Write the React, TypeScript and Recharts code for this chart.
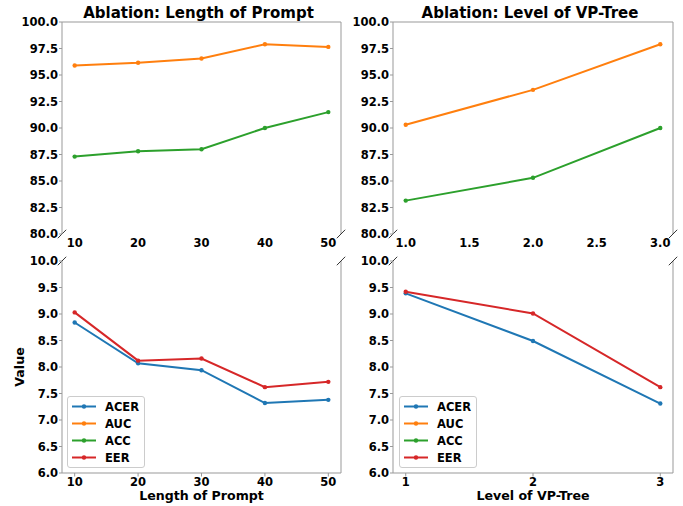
import { LineChart, Line, XAxis, YAxis, ReferenceLine, Legend } from "recharts";

// Length of Prompt ablation
const promptLengths = [10, 20, 30, 40, 50];
const promptACER = [8.84, 8.07, 7.94, 7.32, 7.38];
const promptAUC = [95.9, 96.15, 96.55, 97.9, 97.65];
const promptACC = [87.3, 87.8, 88.0, 90.0, 91.5];
const promptEER = [9.03, 8.12, 8.16, 7.62, 7.72];

// Level of VP-Tree ablation
const vpLevels = [1, 2, 3];
const vpACER = [9.39, 8.49, 7.31];
const vpAUC = [90.3, 93.6, 97.9];
const vpACC = [83.15, 85.3, 90.0];
const vpEER = [9.42, 9.01, 7.62];

const seriesNames = ["ACER", "AUC", "ACC", "EER"];
const seriesColors = ["#1f77b4", "#ff7f0e", "#2ca02c", "#d62728"];

const upperTicks = [80, 82.5, 85, 87.5, 90, 92.5, 95, 97.5, 100];
const lowerTicks = [6, 6.5, 7, 7.5, 8, 8.5, 9, 9.5, 10];
const promptTicks = [10, 20, 30, 40, 50];
const vpTicksUpper = [1, 1.5, 2, 2.5, 3];
const vpTicksLower = [1, 2, 3];

const W = 683;
const H = 506;
const Y_W = 50;
const X_H = 30;
const FONT = "'DejaVu Sans', sans-serif";
const SPINE = "#999";

const promptRows = promptLengths.map((x, i) => ({
    x,
    ACER: promptACER[i],
    AUC: promptAUC[i],
    ACC: promptACC[i],
    EER: promptEER[i],
}));

const vpRows = vpLevels.map((x, i) => ({
    x,
    ACER: vpACER[i],
    AUC: vpAUC[i],
    ACC: vpACC[i],
    EER: vpEER[i],
}));

const LegendBox = ({ payload }: any) => {
    const items = [...(payload || [])].sort(
        (a: any, b: any) => seriesNames.indexOf(a.value) - seriesNames.indexOf(b.value)
    );
    return (
        <div
            style={{
                border: "1px solid #cccccc",
                borderRadius: 3,
                background: "rgba(255,255,255,0.8)",
                padding: "1px 5px 1px 4px",
                fontFamily: FONT,
            }}
        >
            {items.map((it: any) => (
                <div key={it.value} style={{ display: "flex", alignItems: "center", height: 17 }}>
                    <svg width={24} height={17}>
                        <line x1={0} x2={24} y1={8.5} y2={8.5} stroke={it.color} strokeWidth={2} />
                        <circle cx={12} cy={8.5} r={2.2} fill={it.color} />
                    </svg>
                    <span style={{ marginLeft: 9, fontSize: 11.5, fontWeight: "bold", color: "#000" }}>
                        {it.value}
                    </span>
                </div>
            ))}
        </div>
    );
};

interface PanelProps {
    rows: any[];
    plot: { left: number; right: number; top: number; bottom: number };
    xDomain: [number, number];
    xTicks: number[];
    xFmt: (v: number) => string;
    yDomain: [number, number];
    yTicks: number[];
    upper: boolean;
    xLabel?: string;
    yLabel?: string;
    legendPos?: { left: number; top: number };
}

function Panel({ rows, plot, xDomain, xTicks, xFmt, yDomain, yTicks, upper, xLabel, yLabel, legendPos }: PanelProps) {
    const margin = {
        left: plot.left - Y_W,
        right: W - plot.right,
        top: plot.top,
        bottom: H - plot.bottom - X_H,
    };
    const [x0, x1] = xDomain;
    const [y0, y1] = yDomain;
    const dx = 0.015 * (x1 - x0);
    const dy = 0.02 * (y1 - y0);
    const breakY = upper ? y0 : y1;
    const tickStyle = { fill: "#000", fontSize: 11.5, fontWeight: "bold", fontFamily: FONT };

    return (
        <div style={{ position: "absolute", left: 0, top: 0 }}>
            <LineChart width={W} height={H} data={rows} margin={margin}>
                <XAxis
                    dataKey="x"
                    type="number"
                    domain={xDomain}
                    allowDataOverflow
                    ticks={xTicks}
                    interval={0}
                    tickFormatter={xFmt}
                    height={X_H}
                    axisLine={upper ? false : { stroke: SPINE }}
                    tickLine={upper ? false : { stroke: SPINE }}
                    tickSize={upper ? 4.5 : 3.5}
                    tickMargin={upper ? 0 : 1}
                    tick={tickStyle}
                    label={
                        xLabel
                            ? {
                                  value: xLabel,
                                  position: "insideBottom",
                                  offset: 3,
                                  style: { fontSize: 12.6, fontWeight: "bold", fill: "#000", fontFamily: FONT },
                              }
                            : undefined
                    }
                />
                <YAxis
                    type="number"
                    domain={yDomain}
                    allowDataOverflow
                    ticks={yTicks}
                    interval={0}
                    tickFormatter={(v: number) => v.toFixed(1)}
                    width={Y_W}
                    axisLine={{ stroke: SPINE }}
                    tickLine={{ stroke: SPINE }}
                    tickSize={3}
                    tickMargin={1}
                    tick={tickStyle}
                    label={
                        yLabel
                            ? {
                                  value: yLabel,
                                  angle: -90,
                                  position: "insideLeft",
                                  offset: 8,
                                  style: {
                                      fontSize: 12.6,
                                      fontWeight: "bold",
                                      fill: "#000",
                                      fontFamily: FONT,
                                      textAnchor: "middle",
                                  },
                              }
                            : undefined
                    }
                />
                <ReferenceLine x={x1} stroke={SPINE} strokeWidth={1} ifOverflow="visible" />
                {upper && <ReferenceLine y={y1} stroke={SPINE} strokeWidth={1} ifOverflow="visible" />}
                <ReferenceLine
                    segment={[
                        { x: x0 - dx, y: breakY - dy },
                        { x: x0 + dx, y: breakY + dy },
                    ]}
                    stroke="#333"
                    strokeWidth={1}
                    ifOverflow="visible"
                />
                <ReferenceLine
                    segment={[
                        { x: x1 - dx, y: breakY - dy },
                        { x: x1 + dx, y: breakY + dy },
                    ]}
                    stroke="#333"
                    strokeWidth={1}
                    ifOverflow="visible"
                />
                {seriesNames.map((name, i) => (
                    <Line
                        key={name}
                        type="linear"
                        dataKey={name}
                        name={name}
                        stroke={seriesColors[i]}
                        strokeWidth={2}
                        dot={{ r: 2.2, fill: seriesColors[i], stroke: seriesColors[i], strokeWidth: 0 }}
                        activeDot={false}
                        isAnimationActive={false}
                    />
                ))}
                {legendPos && (
                    <Legend
                        layout="vertical"
                        align="center"
                        verticalAlign="middle"
                        content={<LegendBox />}
                        wrapperStyle={{ left: legendPos.left, top: legendPos.top, width: "auto", height: "auto" }}
                    />
                )}
            </LineChart>
        </div>
    );
}

const titleStyle = (left: number, right: number) => ({
    position: "absolute" as const,
    left: left - 3,
    width: right - left,
    top: 5.6,
    textAlign: "center" as const,
    fontFamily: FONT,
    fontWeight: "bold",
    fontSize: 15,
    lineHeight: "15px",
    color: "#000",
    whiteSpace: "nowrap" as const,
});

export default function App() {
    const leftPlot = { left: 62, right: 341 };
    const rightPlot = { left: 393, right: 673 };
    const upperY = { top: 22, bottom: 234 };
    const lowerY = { top: 261, bottom: 473 };
    const fmt1 = (v: number) => v.toFixed(1);
    const fmt0 = (v: number) => String(v);

    return (
        <div
            style={{
                position: "absolute",
                left: 0,
                top: 0,
                width: W,
                height: H,
                background: "#fff",
                overflow: "hidden",
            }}
        >
            <Panel
                rows={promptRows}
                plot={{ ...leftPlot, ...upperY }}
                xDomain={[8, 52]}
                xTicks={promptTicks}
                xFmt={fmt0}
                yDomain={[80, 100]}
                yTicks={upperTicks}
                upper
            />
            <Panel
                rows={promptRows}
                plot={{ ...leftPlot, ...lowerY }}
                xDomain={[8, 52]}
                xTicks={promptTicks}
                xFmt={fmt0}
                yDomain={[6, 10]}
                yTicks={lowerTicks}
                upper={false}
                xLabel="Length of Prompt"
                yLabel="Value"
                legendPos={{ left: 67, top: 396 }}
            />
            <Panel
                rows={vpRows}
                plot={{ ...rightPlot, ...upperY }}
                xDomain={[0.9, 3.1]}
                xTicks={vpTicksUpper}
                xFmt={fmt1}
                yDomain={[80, 100]}
                yTicks={upperTicks}
                upper
            />
            <Panel
                rows={vpRows}
                plot={{ ...rightPlot, ...lowerY }}
                xDomain={[0.9, 3.1]}
                xTicks={vpTicksLower}
                xFmt={fmt0}
                yDomain={[6, 10]}
                yTicks={lowerTicks}
                upper={false}
                xLabel="Level of VP-Tree"
                legendPos={{ left: 399, top: 396 }}
            />
            <div style={titleStyle(leftPlot.left, leftPlot.right)}>Ablation: Length of Prompt</div>
            <div style={titleStyle(rightPlot.left, rightPlot.right)}>Ablation: Level of VP-Tree</div>
        </div>
    );
}
